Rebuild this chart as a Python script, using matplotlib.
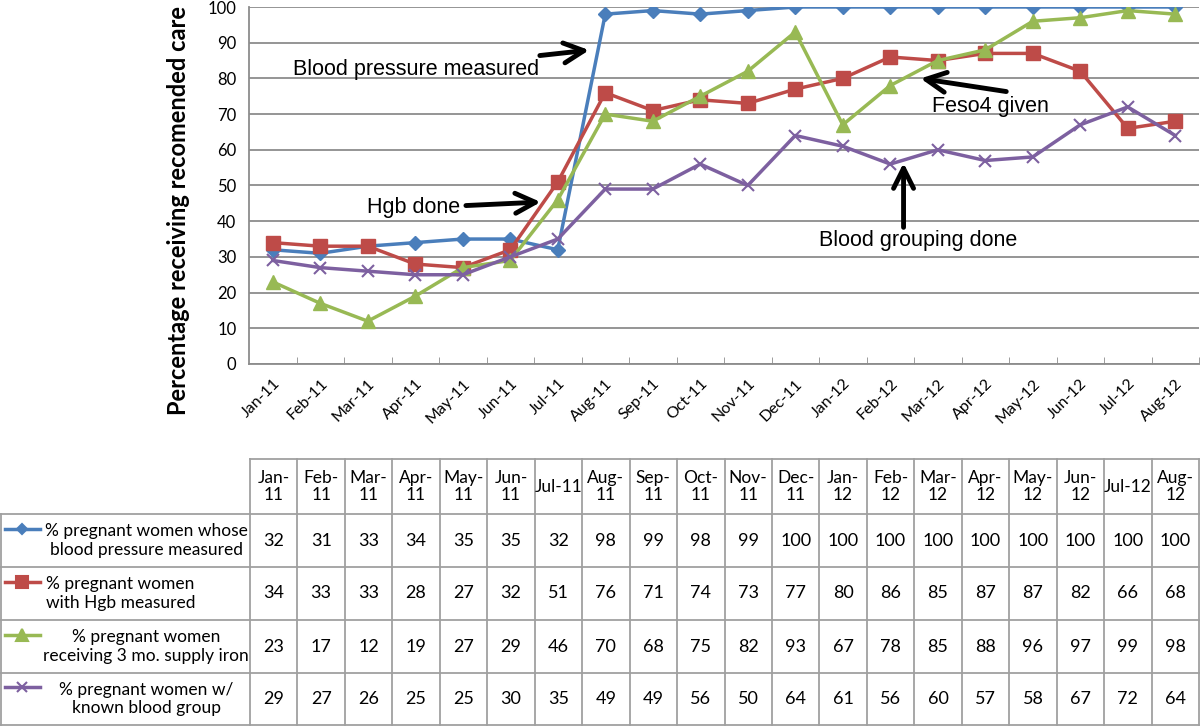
import matplotlib.pyplot as plt
from matplotlib.lines import Line2D

# data
months = ["Jan-11", "Feb-11", "Mar-11", "Apr-11", "May-11", "Jun-11", "Jul-11",
          "Aug-11", "Sep-11", "Oct-11", "Nov-11", "Dec-11", "Jan-12", "Feb-12",
          "Mar-12", "Apr-12", "May-12", "Jun-12", "Jul-12", "Aug-12"]
header = ["Jan-\n11", "Feb-\n11", "Mar-\n11", "Apr-\n11", "May-\n11", "Jun-\n11", "Jul-11",
          "Aug-\n11", "Sep-\n11", "Oct-\n11", "Nov-\n11", "Dec-\n11", "Jan-\n12", "Feb-\n12",
          "Mar-\n12", "Apr-\n12", "May-\n12", "Jun-\n12", "Jul-12", "Aug-\n12"]
bp = [32, 31, 33, 34, 35, 35, 32, 98, 99, 98, 99, 100, 100, 100, 100, 100, 100, 100, 100, 100]
hgb = [34, 33, 33, 28, 27, 32, 51, 76, 71, 74, 73, 77, 80, 86, 85, 87, 87, 82, 66, 68]
iron = [23, 17, 12, 19, 27, 29, 46, 70, 68, 75, 82, 93, 67, 78, 85, 88, 96, 97, 99, 98]
group = [29, 27, 26, 25, 25, 30, 35, 49, 49, 56, 50, 64, 61, 56, 60, 57, 58, 67, 72, 64]

series = [
    (bp, "#4A7EBB", "D", 7, "% pregnant women whose\nblood pressure measured", "center"),
    (hgb, "#BE4B48", "s", 10, "% pregnant women\nwith Hgb measured", "left"),
    (iron, "#98B954", "^", 10, "% pregnant women\nreceiving 3 mo. supply iron", "center"),
    (group, "#7D60A0", "x", 9, "% pregnant women w/\nknown blood group", "center"),
]

plt.rcParams['font.family'] = ['Lato', 'DejaVu Sans']

W, H = 1200, 726
fig = plt.figure(figsize=(12, 7.26), dpi=100)


def fx(x):
    return x / W


def fy(y):
    return 1 - y / H


ax = fig.add_axes([fx(249), fy(364), fx(1199) - fx(249), fy(7) - fy(364)])
xs = list(range(len(months)))
for vals, col, mk, ms, lab, al in series:
    mew = 1.5 if mk == "x" else 1
    ax.plot(xs, vals, color=col, lw=2.5, marker=mk, markersize=ms,
            markeredgewidth=mew, markeredgecolor=col, markerfacecolor=col, zorder=3)

ax.set_xlim(-0.5, len(months) - 0.5)
ax.set_ylim(0, 100)
ax.set_yticks(range(0, 101, 10))
ax.yaxis.grid(True, color="#8c8c8c", lw=1.3)
ax.set_axisbelow(True)
ax.set_xticks(xs)
ax.set_xticklabels(months, rotation=45, ha="right", rotation_mode="anchor", fontsize=11.5)
ax.set_xticks([i - 0.5 for i in range(1, len(months) + 1)], minor=True)
ax.tick_params(axis="x", which="major", length=0, pad=9)
ax.tick_params(axis="x", which="minor", length=5, direction="in", color="#8c8c8c")
ax.tick_params(axis="y", length=0, labelsize=12, pad=9)
for s in ["top", "right"]:
    ax.spines[s].set_visible(False)
ax.spines["left"].set_color("#8c8c8c")
ax.spines["bottom"].set_color("#8c8c8c")
ax.spines["left"].set_linewidth(1.3)
ax.spines["bottom"].set_linewidth(1.3)
ax.set_ylabel("Percentage receiving recomended care", fontsize=17, fontweight="bold", labelpad=8)
ax.yaxis.set_label_coords(-0.062, 0.43)

arrow = dict(arrowstyle="->", lw=3.5, color="black", mutation_scale=36)
afont = dict(fontsize=15.5, family=["Liberation Sans", "DejaVu Sans"])
ax.annotate("Blood pressure measured", xy=(6.72, 88), xytext=(5.6, 82.6),
            ha="right", va="center", arrowprops=arrow, **afont)
ax.annotate("Hgb done", xy=(5.7, 45.4), xytext=(3.95, 43.7),
            ha="right", va="center", arrowprops=arrow, **afont)
ax.annotate("", xy=(13.58, 80.1), xytext=(15.5, 76.2), arrowprops=arrow)
ax.text(15.1, 72, "Feso4 given", ha="center", va="center", **afont)
ax.annotate("", xy=(13.28, 57.1), xytext=(13.28, 37.5), arrowprops=arrow)
ax.text(13.58, 34.7, "Blood grouping done", ha="center", va="center", **afont)

# table below the chart
gc = "#a0a0a0"
rows_y = [459, 514, 567, 620, 673, 725]
col0 = 250
cw = (W - 1 - col0) / len(months)
fig.add_artist(Line2D([fx(col0), fx(W - 1)], [fy(rows_y[0])] * 2, color=gc, lw=1.3))
for y in rows_y[1:]:
    fig.add_artist(Line2D([fx(0), fx(W - 1)], [fy(y)] * 2, color=gc, lw=1.3))
fig.add_artist(Line2D([fx(1), fx(1)], [fy(rows_y[1]), fy(rows_y[-1])], color=gc, lw=1.3))
for k in range(len(months) + 1):
    x = col0 + cw * k
    fig.add_artist(Line2D([fx(x), fx(x)], [fy(rows_y[0]), fy(rows_y[-1])], color=gc, lw=1.3))

for k, h in enumerate(header):
    fig.text(fx(col0 + cw * (k + 0.5)), fy((rows_y[0] + rows_y[1]) / 2), h,
             ha="center", va="center", fontsize=12.5, linespacing=1.15)

for r, (vals, col, mk, ms, lab, al) in enumerate(series):
    yc = (rows_y[r + 1] + rows_y[r + 2]) / 2
    for k, v in enumerate(vals):
        fig.text(fx(col0 + cw * (k + 0.5)), fy(yc), str(v), ha="center", va="center", fontsize=13)
    fig.add_artist(Line2D([fx(5), fx(40)], [fy(yc - 12)] * 2, color=col, lw=2.5))
    fig.add_artist(Line2D([fx(22)], [fy(yc - 12)], color=col, marker=mk, markersize=ms * 0.8,
                          markeredgewidth=1.5, markeredgecolor=col, markerfacecolor=col))
    if al == "left":
        fig.text(fx(46), fy(yc), lab, ha="left", va="center", fontsize=12.5, linespacing=1.2)
    else:
        fig.text(fx(146), fy(yc), lab, ha="center", va="center", fontsize=12.5, linespacing=1.2)

fig.savefig("out.png", dpi=100)
